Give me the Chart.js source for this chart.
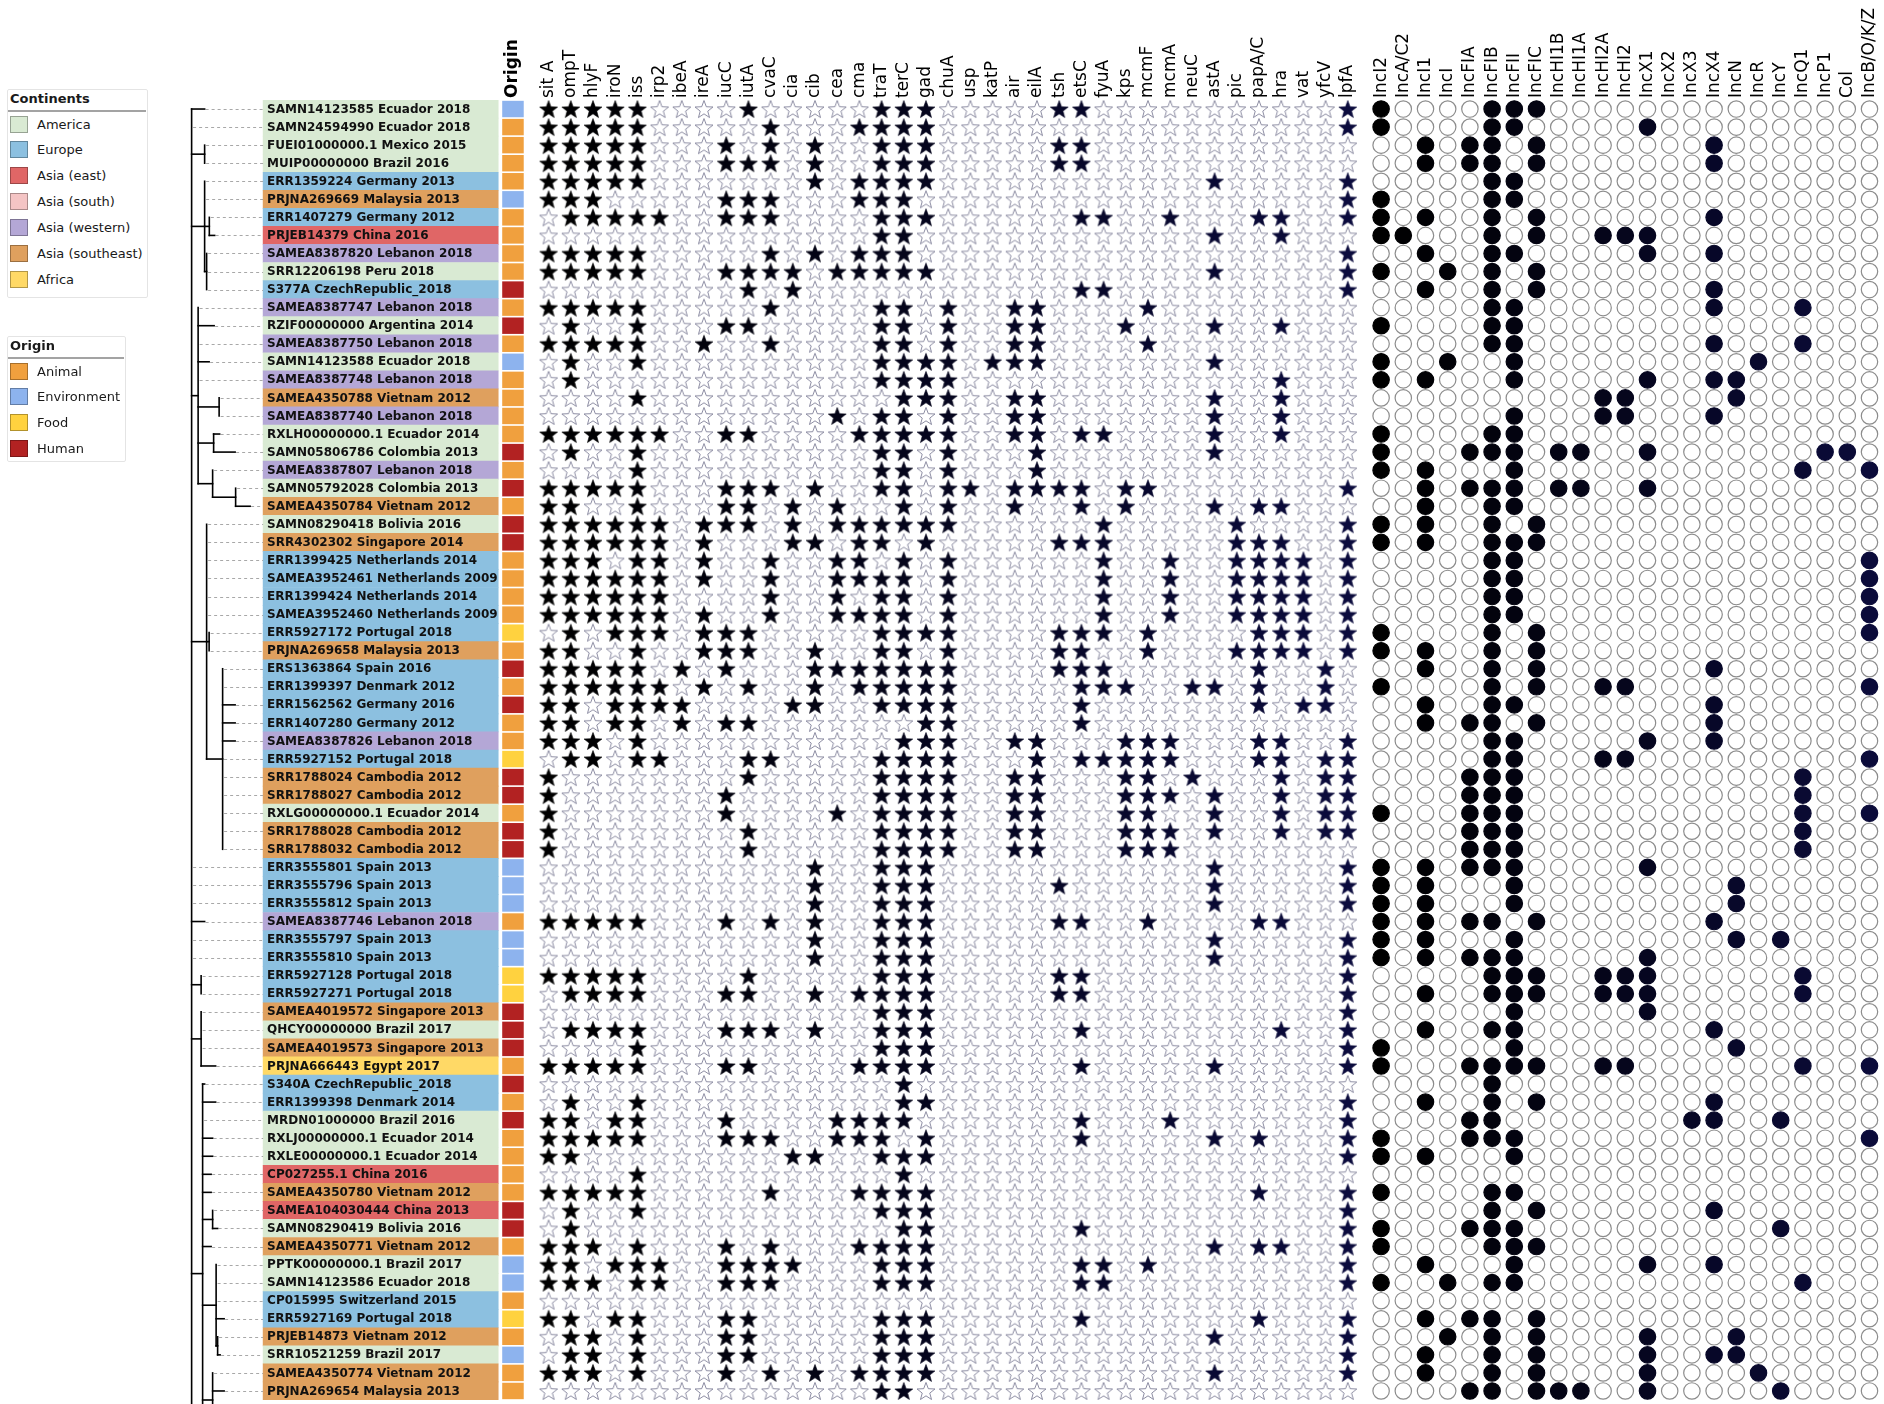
<!DOCTYPE html>
<html lang="en">
<head>
<meta charset="utf-8">
<title>Virulence genes and plasmid replicons</title>
<script src="https://cdn.jsdelivr.net/npm/chart.js@4.4.1/dist/chart.umd.min.js"></script>
<style>
  html, body { margin: 0; padding: 0; background: #ffffff; }
  #wrap { position: relative; width: 1884px; height: 1404px; overflow: hidden; }
  #canvas-tree { position: absolute; left: 0; top: 0; }
  .legend { position: absolute; box-sizing: border-box; border: 1px solid #e4e4e4; border-radius: 2px; background: #fff;
            font-family: "DejaVu Sans", sans-serif; font-size: 13px; color: #1a1a1a; }
  .legend .title { position: absolute; left: 2px; top: 0px; font-weight: bold; line-height: 17px; }
  .legend .rule { position: absolute; left: 0; right: 1px; top: 20px; border-top: 2px solid #a3a3a3; }
  .legend .item { position: absolute; left: 2px; height: 17px; line-height: 17px; white-space: nowrap; }
  .legend .swatch { display: inline-block; width: 18px; height: 17px; box-sizing: border-box;
                    border: 1px solid rgba(0,0,0,0.3); vertical-align: top; margin-right: 9px; }
</style>
</head>
<body>
<div id="wrap">
  <canvas id="canvas-tree" width="1884" height="1404"></canvas>
  <div id="legend-continents" class="legend" style="left:7px; top:89px; width:141px; height:209px;"></div>
  <div id="legend-origin" class="legend" style="left:7px; top:336px; width:119px; height:126px;"></div>
</div>
<script>
const continentNames = ["America", "Europe", "Asia (east)", "Asia (south)", "Asia (western)", "Asia (southeast)", "Africa"];
const continentColors = ["#d9ead3", "#8cc0e0", "#e06666", "#f4c4c4", "#b4a7d6", "#dfa05e", "#ffd966"];
const originNames = ["Animal", "Environment", "Food", "Human"];
const originColors = ["#f0a03e", "#8db3ee", "#ffd23f", "#b22222"];

const virulenceGenes = ["sit A", "ompT", "hlyF", "iroN", "iss", "irp2", "ibeA", "ireA", "iucC", "iutA", "cvaC",
  "cia", "cib", "cea", "cma", "traT", "terC", "gad", "chuA", "usp", "katP", "air", "eilA", "tsh", "etsC",
  "fyuA", "kps", "mcmF", "mcmA", "neuC", "astA", "pic", "papA/C", "hra", "vat", "yfcV", "lpfA"];
const plasmidReplicons = ["IncI2", "IncA/C2", "IncI1", "IncI", "IncFIA", "IncFIB", "IncFII", "IncFIC",
  "IncHI1B", "IncHI1A", "IncHI2A", "IncHI2", "IncX1", "IncX2", "IncX3", "IncX4", "IncN", "IncR", "IncY",
  "IncQ1", "IncP1", "Col", "IncB/O/K/Z"];

const sampleNames = [
  "SAMN14123585 Ecuador 2018", "SAMN24594990 Ecuador 2018", "FUEI01000000.1 Mexico 2015", "MUIP00000000 Brazil 2016",
  "ERR1359224 Germany 2013", "PRJNA269669 Malaysia 2013", "ERR1407279 Germany 2012", "PRJEB14379 China 2016",
  "SAMEA8387820 Lebanon 2018", "SRR12206198 Peru 2018", "S377A CzechRepublic_2018", "SAMEA8387747 Lebanon 2018",
  "RZIF00000000 Argentina 2014", "SAMEA8387750 Lebanon 2018", "SAMN14123588 Ecuador 2018", "SAMEA8387748 Lebanon 2018",
  "SAMEA4350788 Vietnam 2012", "SAMEA8387740 Lebanon 2018", "RXLH00000000.1 Ecuador 2014", "SAMN05806786 Colombia 2013",
  "SAMEA8387807 Lebanon 2018", "SAMN05792028 Colombia 2013", "SAMEA4350784 Vietnam 2012", "SAMN08290418 Bolivia 2016",
  "SRR4302302 Singapore 2014", "ERR1399425 Netherlands 2014", "SAMEA3952461 Netherlands 2009", "ERR1399424 Netherlands 2014",
  "SAMEA3952460 Netherlands 2009", "ERR5927172 Portugal 2018", "PRJNA269658 Malaysia 2013", "ERS1363864 Spain 2016",
  "ERR1399397 Denmark 2012", "ERR1562562 Germany 2016", "ERR1407280 Germany 2012", "SAMEA8387826 Lebanon 2018",
  "ERR5927152 Portugal 2018", "SRR1788024 Cambodia 2012", "SRR1788027 Cambodia 2012", "RXLG00000000.1 Ecuador 2014",
  "SRR1788028 Cambodia 2012", "SRR1788032 Cambodia 2012", "ERR3555801 Spain 2013", "ERR3555796 Spain 2013",
  "ERR3555812 Spain 2013", "SAMEA8387746 Lebanon 2018", "ERR3555797 Spain 2013", "ERR3555810 Spain 2013",
  "ERR5927128 Portugal 2018", "ERR5927271 Portugal 2018", "SAMEA4019572 Singapore 2013", "QHCY00000000 Brazil 2017",
  "SAMEA4019573 Singapore 2013", "PRJNA666443 Egypt 2017", "S340A CzechRepublic_2018", "ERR1399398 Denmark 2014",
  "MRDN01000000 Brazil 2016", "RXLJ00000000.1 Ecuador 2014", "RXLE00000000.1 Ecuador 2014", "CP027255.1 China 2016",
  "SAMEA4350780 Vietnam 2012", "SAMEA104030444 China 2013", "SAMN08290419 Bolivia 2016", "SAMEA4350771 Vietnam 2012",
  "PPTK00000000.1 Brazil 2017", "SAMN14123586 Ecuador 2018", "CP015995 Switzerland 2015", "ERR5927169 Portugal 2018",
  "PRJEB14873 Vietnam 2012", "SRR10521259 Brazil 2017", "SAMEA4350774 Vietnam 2012", "PRJNA269654 Malaysia 2013"
];

// index into continentNames, one per sample
const sampleContinent = [
  0,0,0,0,1,5,1,2,4,0,
  1,4,0,4,0,4,5,4,0,0,
  4,0,5,0,5,1,1,1,1,1,
  5,1,1,1,1,4,1,5,5,0,
  5,5,1,1,1,4,1,1,1,1,
  5,0,5,6,1,1,0,0,0,2,
  5,2,0,5,0,0,1,1,5,0,
  5,5
];
// index into originNames, one per sample
const sampleOrigin = [
  1,0,0,0,0,1,0,0,0,0,
  3,0,3,0,1,0,0,0,0,3,
  0,3,0,3,3,0,0,0,0,2,
  0,3,0,3,0,0,2,3,3,0,
  3,3,1,1,1,0,1,1,2,2,
  3,3,3,0,3,0,3,0,0,0,
  0,3,3,0,1,1,0,2,0,1,
  0,0
];

// genes present (column indices into virulenceGenes), one list per sample
const virulenceHits = [
  [0,1,2,3,4,9,15,16,17,23,24,36],
  [0,1,2,3,4,10,14,15,16,17,36],
  [0,1,2,3,4,8,10,12,15,16,17,23,24],
  [0,1,2,3,4,8,9,10,12,15,16,17,23,24],
  [0,1,2,3,4,12,14,15,16,17,30,36],
  [0,1,2,8,9,10,14,15,16,36],
  [1,2,3,4,5,8,9,10,15,16,17,24,25,28,32,33,36],
  [15,16,30,33],
  [0,1,2,3,4,10,12,14,15,16,36],
  [0,1,2,3,4,8,9,10,11,13,14,15,16,17,30,36],
  [9,11,24,25,36],
  [0,1,2,3,4,10,15,16,18,21,22,27],
  [1,4,8,9,15,16,18,21,22,26,30,33],
  [0,1,2,3,4,7,10,15,16,18,21,22,27],
  [1,4,15,16,17,18,20,21,22,30],
  [1,15,16,17,18,33],
  [4,16,17,18,21,22,30,33],
  [13,15,16,18,21,22,30,33],
  [0,1,2,3,4,5,8,9,14,15,16,17,18,21,22,24,25,30,33],
  [1,4,15,16,18,22,30],
  [4,15,16,18,22],
  [0,1,2,3,4,8,9,10,12,15,16,18,19,21,22,23,24,26,27,36],
  [0,1,4,8,9,11,13,16,18,21,24,26,30,32,33],
  [0,1,2,3,4,5,7,8,9,11,13,14,15,16,17,18,25,31,36],
  [0,1,2,3,4,5,7,11,12,14,15,17,23,24,25,31,32,33,36],
  [0,1,2,4,5,7,10,13,14,16,18,25,28,31,32,33,34,36],
  [0,1,2,3,4,5,7,10,13,14,15,16,18,25,28,31,32,33,34,36],
  [0,1,2,3,4,5,10,13,15,16,18,25,28,31,32,33,34,36],
  [0,1,2,3,4,5,7,10,13,14,15,16,18,25,28,31,32,33,34,36],
  [1,3,4,5,7,8,9,15,16,17,18,23,24,25,27,32,33,34,36],
  [0,1,4,7,8,9,12,15,16,18,23,24,27,31,32,33,34,36],
  [0,1,2,3,4,6,8,12,13,14,15,16,17,18,23,24,25,32,35],
  [0,1,2,3,4,5,7,9,12,14,15,16,17,18,24,25,26,29,30,32,35],
  [0,1,3,4,5,6,11,12,15,16,17,18,24,32,34,35],
  [0,1,3,4,6,8,9,17,18,24],
  [0,1,2,4,16,17,18,21,22,26,27,28,32,33,36],
  [1,2,4,5,9,10,15,16,17,18,22,24,25,26,27,28,32,33,35,36],
  [0,9,15,16,17,18,21,22,26,27,29,33,35,36],
  [0,8,15,16,17,18,21,22,26,27,28,30,33,35,36],
  [0,8,13,15,16,17,18,21,22,26,27,30,33,35,36],
  [0,9,15,16,17,18,21,22,26,27,28,30,33,35,36],
  [0,9,15,16,17,18,21,22,26,27,28],
  [12,15,16,17,30,36],
  [12,15,16,17,23,30,36],
  [12,15,16,17,30,36],
  [0,1,2,3,4,8,10,12,15,16,17,23,24,27,32,33],
  [12,15,16,17,30,36],
  [12,15,16,17,30,36],
  [0,1,2,3,4,9,15,16,17,23,24,36],
  [1,2,3,4,8,9,12,14,15,16,17,23,24,36],
  [15,16,17,36],
  [1,2,3,4,8,9,10,12,15,16,17,24,33,36],
  [4,15,16,17,36],
  [0,1,2,3,4,8,9,14,15,16,17,24,30,36],
  [16],
  [1,4,16,17,36],
  [0,1,3,4,8,13,14,15,16,24,28,36],
  [0,1,2,3,4,8,9,10,13,14,15,17,24,30,32,36],
  [0,1,11,12,15,16,17,36],
  [4,16],
  [0,1,2,3,4,10,14,15,16,17,32,36],
  [1,4,15,16,17,36],
  [1,16,17,24,36],
  [0,1,2,4,8,10,14,15,16,17,30,32,33,36],
  [0,1,3,4,5,8,9,10,11,15,16,17,24,25,27,36],
  [0,1,2,4,5,8,9,10,15,16,17,24,25,36],
  [],
  [0,1,3,4,8,9,15,16,17,24,32,36],
  [1,2,4,8,9,15,16,17,30,36],
  [1,2,4,8,9,15,16,17,36],
  [0,1,2,4,8,10,12,14,15,16,17,30,36],
  [15,16]
];

// replicons present (column indices into plasmidReplicons), one list per sample
const plasmidHits = [
  [0,5,6,7], [0,5,6,12], [2,4,5,7,15], [2,4,5,7,15], [5,6], [0,5,6], [0,2,5,7,15], [0,1,5,7,10,11,12],
  [2,5,6,12,15], [0,3,5,7], [2,5,7,15], [5,6,15,19], [0,5,6], [5,6,15,19], [0,3,6,17], [0,2,6,12,15,16],
  [10,11,16], [6,10,11,15], [0,5,6], [0,4,5,6,8,9,12,20,21], [0,2,6,19,22], [2,4,5,6,8,9,12], [2,5,6], [0,2,5,7],
  [0,2,5,6,7], [5,6,22], [5,6,22], [5,6,22], [5,6,22], [0,5,7,22], [0,2,5,7], [2,5,7,15],
  [0,5,7,10,11,22], [2,5,6,15], [2,4,5,7,15], [5,6,12,15], [5,6,10,11,22], [4,5,6,19], [4,5,6,19], [0,4,5,6,19,22],
  [4,5,6,19], [4,5,6,19], [0,2,4,5,6,12], [0,2,6,16], [0,2,6,16], [0,2,4,5,7,15], [0,2,6,16,18], [0,2,4,5,6,12],
  [5,6,7,10,11,12,19], [2,5,6,7,10,11,12,19], [6,12], [2,5,6,15], [0,6,16], [0,4,5,6,7,10,11,19,22], [5], [2,5,7,15],
  [4,5,14,15,18], [0,4,5,6,22], [0,2,6], [], [0,5,6], [5,7,15], [0,4,5,6,18], [0,5,6,7],
  [2,6,12,15], [0,3,5,6,19], [], [2,4,5,7], [3,5,7,12,16], [2,5,7,12,15,16], [2,5,7,12,17], [4,5,7,8,9,12,18]
];

// phylogeny: N(depth, children), L(row, depth); depth is distance from the root
const N = (d, c) => ({ d, c });
const L = (r, d) => ({ r, d });
const treeRoot = N(0, [
  L(0, 13), L(1, 0.5),
  N(13, [L(2, 13.5), L(3, 13.5)]),
  N(13, [L(4, 13.5), L(5, 13.5), N(17.7, [L(6, 18.2), L(7, 23)]), N(15, [L(8, 15.5), L(9, 15.5), L(10, 15.5)])]),
  N(6.5, [L(11, 7), L(12, 22.5), L(13, 7), L(14, 17.5), L(15, 7), N(27.5, [L(16, 28), L(17, 28)]),
          N(22, [L(18, 28), L(19, 43.5)]), N(21, [L(20, 21.5), N(44, [L(21, 44.5), L(22, 58.5)])])]),
  N(15, [L(23, 15.5), L(24, 15.5), L(25, 15.5), L(26, 15.5), L(27, 15.5), L(28, 15.5),
         N(17.5, [L(29, 18), L(30, 18)]),
         N(31, [L(31, 31.5), L(32, 31.5), L(33, 43.5), L(34, 43.5), L(35, 43.5), L(36, 31.5),
                L(37, 31.5), L(38, 31.5), L(39, 31.5), L(40, 31.5), L(41, 31.5)])]),
  L(42, 0.5), L(43, 0.5), L(44, 0.5), L(45, 13), L(46, 0.5), L(47, 0.5),
  N(9.5, [L(48, 10), L(49, 10)]),
  N(9.5, [L(50, 10), L(51, 10), L(52, 10), L(53, 24)]),
  N(11, [L(54, 13), L(55, 24), L(56, 11.5), L(57, 21), L(58, 21), L(59, 19.5), L(60, 19.5),
         N(21, [L(61, 21.5), L(62, 26)]), L(63, 19.5),
         N(24.5, [L(64, 25), L(65, 25), L(66, 25), L(67, 32.5), N(26, [L(68, 26.5), L(69, 28.5)])]),
         N(21, [L(70, 21.5), L(71, 32.5), L(73, 30)]), L(75, 20)]),
  L(77, 5)
]);

// layout (x in column units, one unit = one marker column)
const COL_PX = 22.2;
const X_MIN = -548.6 / COL_PX;
const X_MAX = X_MIN + 1884 / COL_PX;
const TREE_X0 = -16.08;
const LABEL_X0 = -12.86, LABEL_X1 = -2.27;
const ORIGIN_X0 = -2.09, ORIGIN_X1 = -1.12, ORIGIN_MID = -1.605;
const PLASMID_X0 = 37.5;
const LAST_ROW = sampleNames.length - 1;
const HEADER_SIZE = 17;

Chart.defaults.font.family = '"DejaVu Sans", sans-serif';

function mix(a, b, t) {
  const pa = [1, 3, 5].map(i => parseInt(a.slice(i, i + 2), 16));
  const pb = [1, 3, 5].map(i => parseInt(b.slice(i, i + 2), 16));
  return "rgb(" + pa.map((v, i) => Math.round(v + (pb[i] - v) * t)).join(",") + ")";
}
const starColors = virulenceGenes.map((g, i) => mix("#000000", "#0b0b3d", i / (virulenceGenes.length - 1)));
const circleColors = plasmidReplicons.map((p, i) => mix("#000000", "#0b0b3a", i / (plasmidReplicons.length - 1)));

function makeStar(fill, stroke, lw) {
  const R = 9.4, r = R * 0.42, size = 22;
  const c = document.createElement("canvas");
  c.width = size; c.height = size;
  const g = c.getContext("2d");
  g.beginPath();
  for (let k = 0; k < 10; k++) {
    const rad = k % 2 === 0 ? R : r;
    const a = -Math.PI / 2 + k * Math.PI / 5;
    const px = size / 2 + rad * Math.cos(a);
    const py = size / 2 + R * 0.095 + rad * Math.sin(a);
    if (k === 0) g.moveTo(px, py); else g.lineTo(px, py);
  }
  g.closePath();
  g.fillStyle = fill;
  g.fill();
  g.lineWidth = lw;
  g.strokeStyle = stroke;
  g.stroke();
  return c;
}
const filledStars = starColors.map(col => makeStar(col, col, 0.6));
const emptyStar = makeStar("#ffffff", "#70708c", 0.8);

// build the point lists from the hit tables
const starOn = [], starOff = [], circleOn = [], circleOff = [];
sampleNames.forEach((name, row) => {
  virulenceGenes.forEach((g, col) => {
    (virulenceHits[row].includes(col) ? starOn : starOff).push({ x: col, y: row });
  });
  plasmidReplicons.forEach((p, col) => {
    (plasmidHits[row].includes(col) ? circleOn : circleOff).push({ x: PLASMID_X0 + col, y: row });
  });
});

const headerValues = [ORIGIN_MID]
  .concat(virulenceGenes.map((g, i) => i))
  .concat(plasmidReplicons.map((p, i) => PLASMID_X0 + i));
const headerNames = ["Origin"].concat(virulenceGenes, plasmidReplicons);

function layoutTree(node) {
  if (node.r !== undefined) { node.y = node.r; return; }
  node.c.forEach(layoutTree);
  node.y = (node.c[0].y + node.c[node.c.length - 1].y) / 2;
}
layoutTree(treeRoot);

const treePlugin = {
  id: "treeAndLabels",
  afterDatasetsDraw(chart) {
    const { ctx, scales } = chart;
    const xs = scales.x, ys = scales.y;
    const px = d => xs.getPixelForValue(TREE_X0 + d / COL_PX);
    const labelLeft = xs.getPixelForValue(LABEL_X0);
    ctx.save();

    // dashed leaders from tips to the labels
    ctx.strokeStyle = "#a8a8a8";
    ctx.lineWidth = 1;
    ctx.setLineDash([3, 3]);
    const leaves = [];
    (function collect(n) { if (n.r !== undefined) leaves.push(n); else n.c.forEach(collect); })(treeRoot);
    leaves.filter(n => n.r <= LAST_ROW).forEach(n => {
      const y = Math.round(ys.getPixelForValue(n.r)) + 0.5;
      ctx.beginPath();
      ctx.moveTo(px(n.d) + 1, y);
      ctx.lineTo(labelLeft, y);
      ctx.stroke();
    });
    ctx.setLineDash([]);

    // branches
    ctx.strokeStyle = "#000000";
    ctx.lineWidth = 1.6;
    ctx.lineCap = "square";
    (function draw(n) {
      if (n.r !== undefined) return;
      const x0 = px(n.d);
      ctx.beginPath();
      ctx.moveTo(x0, ys.getPixelForValue(n.c[0].y));
      ctx.lineTo(x0, ys.getPixelForValue(n.c[n.c.length - 1].y));
      ctx.stroke();
      n.c.forEach(ch => {
        if (ch.d > n.d + 0.6) {
          const y = ys.getPixelForValue(ch.y);
          ctx.beginPath();
          ctx.moveTo(x0, y);
          ctx.lineTo(px(ch.d), y);
          ctx.stroke();
        }
        draw(ch);
      });
    })(treeRoot);

    // sample labels
    ctx.font = 'bold 12px "DejaVu Sans"';
    ctx.fillStyle = "#111111";
    ctx.textBaseline = "middle";
    ctx.textAlign = "left";
    sampleNames.forEach((name, row) => {
      ctx.fillText(name, labelLeft + 4, ys.getPixelForValue(row) + 0.5);
    });
    ctx.restore();
  }
};

const ctx = document.getElementById("canvas-tree").getContext("2d");
const myChart = new Chart(ctx, {
  type: "scatter",
  data: {
    datasets: [
      {
        type: "bar",
        indexAxis: "y",
        grouped: false,
        data: sampleNames.map((n, i) => ({ x: [LABEL_X0, LABEL_X1], y: i })),
        backgroundColor: sampleContinent.map(c => continentColors[c]),
        barPercentage: 1,
        categoryPercentage: 1,
        borderWidth: 0
      },
      {
        type: "bar",
        indexAxis: "y",
        grouped: false,
        data: sampleNames.map((n, i) => ({ x: [ORIGIN_X0, ORIGIN_X1], y: i })),
        backgroundColor: sampleOrigin.map(o => originColors[o]),
        barPercentage: 0.91,
        categoryPercentage: 1,
        borderWidth: 0
      },
      {
        data: starOff,
        pointStyle: emptyStar,
        pointRadius: 9,
        clip: false
      },
      {
        data: starOn,
        pointStyle: c => (c.raw ? filledStars[c.raw.x] : filledStars[0]),
        pointRadius: 9,
        clip: false
      },
      {
        data: circleOff,
        pointStyle: "circle",
        pointRadius: 8.2,
        pointBorderWidth: 1.2,
        pointBackgroundColor: "#ffffff",
        pointBorderColor: "#8c8c8c",
        clip: false
      },
      {
        data: circleOn,
        pointStyle: "circle",
        pointRadius: 8.2,
        pointBorderWidth: 1.2,
        pointBackgroundColor: c => (c.raw ? circleColors[c.raw.x - PLASMID_X0] : "#000"),
        pointBorderColor: c => (c.raw ? circleColors[c.raw.x - PLASMID_X0] : "#000"),
        clip: false
      }
    ]
  },
  options: {
    responsive: false,
    animation: false,
    events: [],
    layout: { autoPadding: false, padding: { left: 0, right: 0, top: 0, bottom: 4 } },
    plugins: {
      legend: { display: false },
      tooltip: { enabled: false }
    },
    scales: {
      x: {
        type: "linear",
        position: "top",
        min: X_MIN,
        max: X_MAX,
        offset: false,
        grid: { display: false, drawTicks: false },
        border: { display: false },
        afterBuildTicks: s => { s.ticks = headerValues.map(v => ({ value: v })); },
        afterFit: s => { s.height = 100; s.paddingLeft = 0; s.paddingRight = 0; },
        ticks: {
          autoSkip: false,
          minRotation: 90,
          maxRotation: 90,
          padding: 2,
          labelOffset: HEADER_SIZE * 1.2,
          color: "#000000",
          font: c => (c.index === 0 ? { size: HEADER_SIZE, weight: "bold" } : { size: HEADER_SIZE }),
          callback: (v, i) => headerNames[i]
        }
      },
      y: {
        type: "linear",
        display: false,
        reverse: true,
        offset: false,
        min: -0.5,
        max: LAST_ROW + 0.5,
        afterBuildTicks: s => { s.ticks = sampleNames.map((n, i) => ({ value: i })); }
      }
    }
  },
  plugins: [treePlugin]
});

// html legends
function buildLegend(id, title, names, colors) {
  const box = document.getElementById(id);
  let html = '<div class="title">' + title + '</div><div class="rule"></div>';
  names.forEach((n, i) => {
    html += '<div class="item" style="top:' + (25.5 + i * 25.9).toFixed(1) + 'px"><span class="swatch" style="background:' +
      colors[i] + '"></span>' + n + '</div>';
  });
  box.innerHTML = html;
}
buildLegend("legend-continents", "Continents", continentNames, continentColors);
buildLegend("legend-origin", "Origin", originNames, originColors);
</script>
</body>
</html>
